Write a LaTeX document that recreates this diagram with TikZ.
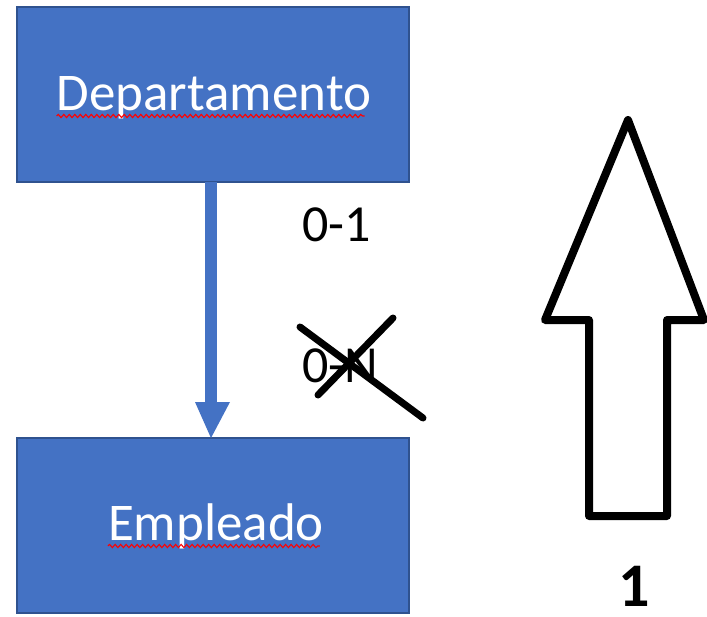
\documentclass[tikz,border=0pt]{standalone}
\usepackage{fontspec}
\setmainfont{Carlito}
\usetikzlibrary{decorations.pathmorphing}
\definecolor{boxblue}{HTML}{4472C4}
\definecolor{boxedge}{HTML}{2F528F}
\tikzset{
  entity/.style={draw=boxedge, line width=1.2pt, fill=boxblue, minimum width=392pt, minimum height=175pt, inner sep=0pt},
  label/.style={text=white, inner sep=0pt, anchor=base, font=\fontsize{53}{56}\selectfont},
  card/.style={inner sep=0pt, font=\fontsize{52}{56}\selectfont, anchor=base west},
  squiggle/.style={red, line width=1.1pt, decorate, decoration={snake, amplitude=1.6pt, segment length=5.5pt}},
  cross/.style={black, line width=7pt, line cap=round},
  bigarrow/.style={draw=black, line width=8pt, line join=round, fill=white}
}
\begin{document}
\begin{tikzpicture}[x=1pt,y=-1pt]
\useasboundingbox (0,0) rectangle (707,616);
\node[entity] (dep) at (213,94.5) {};
\node[entity] (emp) at (213,525.5) {};
\node[label] (deptext) at (214,110) {Departamento};
\node[label] (emptext) at (216,540) {Empleado};
\draw[squiggle] (deptext.base west) ++(0,6) -- ++(308,0);
\draw[squiggle] (emptext.base west) ++(0,6) -- ++(212,0);
% connector
\fill[boxblue] (205,182) rectangle (217,402);
\fill[boxblue] (195,402) -- (230,402) -- (211,438) -- cycle;
% cardinalities
\node[card] (c1) at (302,241) {0-1};
\node[card] (cn) at (302,382) {0-N};
\coordinate (x1a) at (300,327);
\coordinate (x1b) at (423,418);
\coordinate (x2a) at (318,395);
\coordinate (x2b) at (393,318);
\draw[cross] (x1a) -- (x1b);
\draw[cross] (x2a) -- (x2b);
% big arrow
\draw[bigarrow] (628,120) -- (704,320) -- (667,320) -- (667,516) -- (589,516) -- (589,320) -- (545,320) -- cycle;
\node[font=\bfseries\fontsize{62}{66}\selectfont, inner sep=0pt, anchor=base] (one) at (634,606) {1};
\end{tikzpicture}
\end{document}
